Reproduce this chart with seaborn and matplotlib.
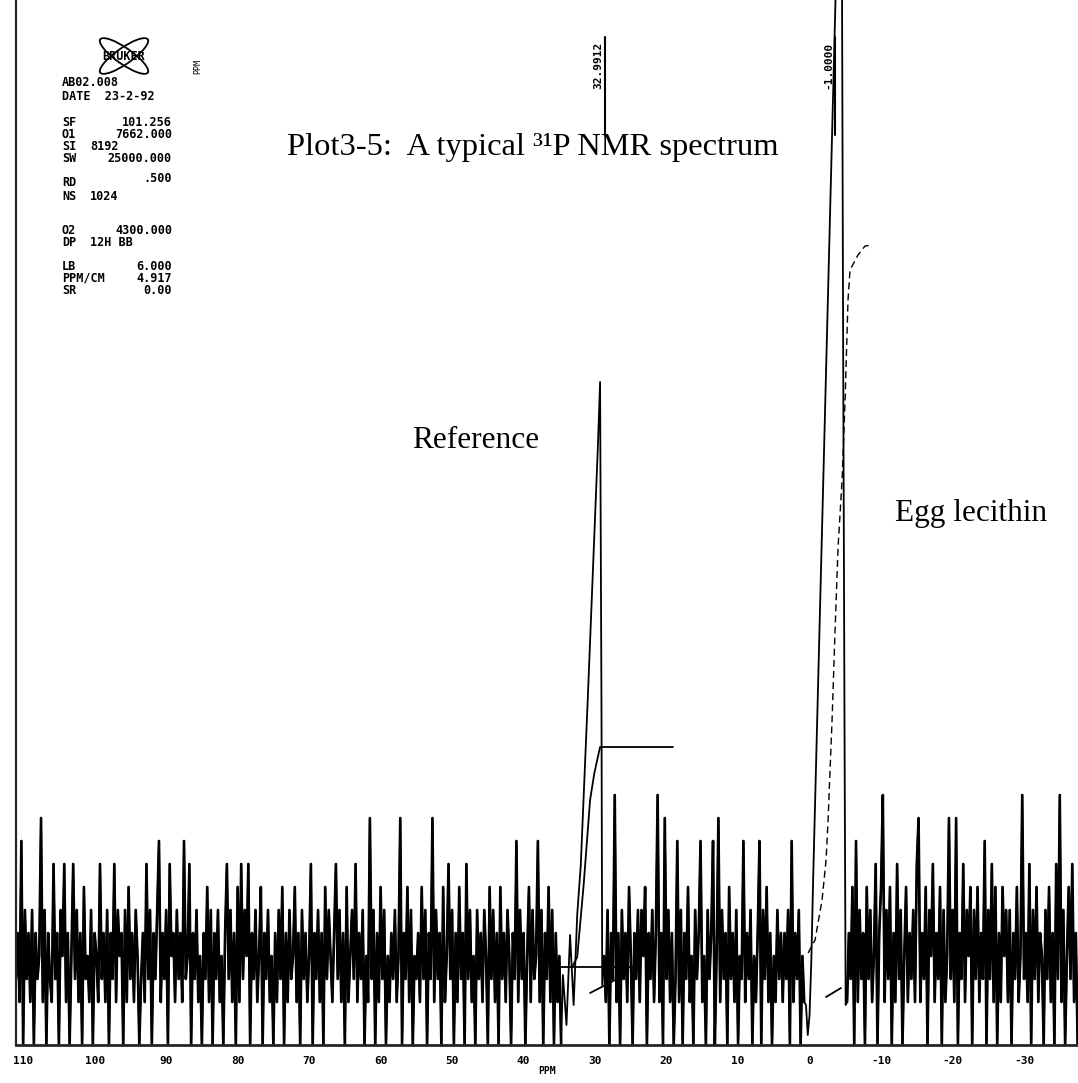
import numpy as np
import pandas as pd
import seaborn as sns
import matplotlib.pyplot as plt
from matplotlib.patches import Ellipse

sns.set_style('white')
plt.rcParams['font.family'] = ['DejaVu Sans']
plt.rcParams['text.color'] = 'black'
plt.rcParams['axes.labelcolor'] = 'black'
plt.rcParams['xtick.color'] = 'black'
plt.rcParams['ytick.color'] = 'black'

# baseline noise, one hex digit per 0.25 ppm
noise_left = ("2418052415" "0423915042" "1724053714" "0372514062" "3150431724"
              "1504271534" "0516241530" "2417250425" "8142507341" "5241823704"
              "2513042615" "0425130472" "5140617253" "7042513604" "2513041526"
              "0415236140" "5241370425" "1406253147" "2514061352" "7142503192"
              "5041625031" "4251390426" "1503241625" "0429152406" "1372504162"
              "4072513052" "4153062514" "0624153042" "8152403615" "2381504261"
              "504130")
noise_mid = ("315042a140" "5241630425" "1536042514" "a140925140" "2815042613"
             "0524813052" "4803915240" "6241503281" "4250314805" "2614031524"
             "1425081425" "031")
noise_right = ("1426081524" "0625137046" "a152604172" "5036142517" "9142605371"
               "4260513925" "1904271536" "0526142805" "2716041635" "15042613a2"
               "4170526143" "052614072a" "1503627140")

# reference peak and egg lecithin peak
ref_peak_ppm = [34.5, 34.0, 33.5, 33.0, 32.5, 32.0, 31.5, 31.0, 30.5, 30.0, 29.6, 29.3, 29.1, 29.0]
ref_peak_int = [70, 20, 110, 40, 130, 180, 265, 350, 440, 530, 600, 663, 330, 60]
egg_peak_ppm = [0.5, 0.25, 0.0, -0.25, -0.5, -1.0, -1.5, -2.0, -2.5, -3.0, -3.5, -4.0, -4.3, -4.5, -4.7, -4.9, -5.05]
egg_peak_int = [40, 10, 30, 85, 165, 305, 445, 585, 725, 865, 1005, 1160, 1400, 1150, 700, 300, 40]

# integral traces
ref_base_ppm = [35.6, 24.4]
ref_base_val = [78, 78]
ref_int_ppm = [33.2, 32.5, 31.6, 30.7, 30.1, 29.7, 29.3, 19.1]
ref_int_val = [78, 88, 160, 245, 272, 285, 298, 298]
ref_tail_ppm = [30.7, 27.2]
ref_tail_val = [52, 65]
egg_int_ppm = [0.2, -0.77, -1.75, -2.31, -2.59, -3.15, -3.57, -3.99, -4.55, -4.97, -5.38, -5.66, -6.78, -7.76, -8.74]
egg_int_val = [92, 105, 145, 185, 225, 325, 415, 498, 565, 645, 745, 775, 790, 799, 800]
egg_tail_ppm = [-2.3, -4.4]
egg_tail_val = [48, 57]

# peak picking labels
pick_ppm = [28.6, -3.57]
pick_text = ['32.9912', '-1.0000']

tick_ppm = [110, 100, 90, 80, 70, 60, 50, 40, 30, 20, 10, 0, -10, -20, -30]
tick_text = ['110', '100', '90', '80', '70', '60', '50', '40', '30', '20', '10', '0', '-10', '-20', '-30']

hdr_keys = ['SF', 'O1', 'SI', 'SW', 'RD', 'NS', 'O2', 'DP', 'LB', 'PPM/CM', 'SR']
hdr_vals = ['101.256', '7662.000', '8192', '25000.000', '.500', '1024', '4300.000', '12H BB', '6.000', '4.917', '0.00']


def levels(s):
    out = []
    for c in s:
        n = int(c, 16)
        out.append(0 if n == 0 else 20 + n * 23)
    return out


seg_left = (111.0 - 0.25 * np.arange(len(noise_left)), levels(noise_left))
seg_mid = (28.75 - 0.25 * np.arange(len(noise_mid)), levels(noise_mid))
seg_right = (-5.25 - 0.25 * np.arange(len(noise_right)), levels(noise_right))

ppm = np.concatenate([seg_left[0], ref_peak_ppm, seg_mid[0], egg_peak_ppm, seg_right[0]])
inten = seg_left[1] + ref_peak_int + seg_mid[1] + egg_peak_int + seg_right[1]
df = pd.DataFrame({'ppm': ppm, 'intensity': inten})

fig = plt.figure(figsize=(10.78, 10.83), dpi=100)
ax = fig.add_axes([16 / 1078, 38 / 1083, 1062 / 1078, 1045 / 1083])

# whole trace thin, noise parts drawn again heavier (dense pen trace)
sns.lineplot(data=df, x='ppm', y='intensity', sort=False, estimator=None,
             color='black', lw=1.3, ax=ax)
for xs, ys in [seg_left, seg_mid, seg_right]:
    sns.lineplot(x=xs, y=ys, sort=False, estimator=None, color='black', lw=1.9, ax=ax)
for xs, ys in [(ref_base_ppm, ref_base_val), (ref_int_ppm, ref_int_val),
               (ref_tail_ppm, ref_tail_val), (egg_tail_ppm, egg_tail_val)]:
    sns.lineplot(x=xs, y=ys, sort=False, estimator=None, color='black', lw=1.3, ax=ax)
sns.lineplot(x=egg_int_ppm, y=egg_int_val, sort=False, estimator=None, color='black', lw=1.0,
             ax=ax, linestyle=(0, (5, 3)))

for p, t in zip(pick_ppm, pick_text):
    ax.plot([p, p], [910, 1008], color='black', lw=1.5)
    ax.text(p + 0.3, 980, t, rotation=90, ha='right', va='center',
            family='DejaVu Sans Mono', fontweight='bold', fontsize=8)

ax.set_xlim(111.0, -37.55)
ax.set_ylim(0, 1045)
ax.spines['top'].set_visible(False)
ax.spines['right'].set_visible(False)
ax.spines['left'].set_linewidth(1.6)
ax.spines['bottom'].set_linewidth(2.0)
ax.set_xticks(tick_ppm)
ax.set_xticklabels(tick_text, family='DejaVu Sans Mono', fontweight='bold', fontsize=8)
ax.set_xticks([t - 5 for t in tick_ppm], minor=True)
ax.tick_params(axis='x', which='both', direction='out', length=5, width=1.2, pad=3)
ax.set_yticks(np.arange(45, 1045, 75))
ax.set_yticklabels([])
ax.tick_params(axis='y', direction='in', length=4, width=1.0)
ax.set_xlabel('PPM', family='DejaVu Sans Mono', fontweight='bold', fontsize=7, labelpad=0)
ax.set_ylabel('')

# overlay in pixel units for the plotter header and the annotations
ov = fig.add_axes([0, 0, 1, 1])
ov.set_xlim(0, 1078)
ov.set_ylim(1083, 0)
ov.axis('off')
ov.patch.set_alpha(0)

mono = dict(family='DejaVu Sans Mono', fontsize=8.5, fontweight='bold', va='center')
ov.add_patch(Ellipse((124, 56), 58, 16, angle=35, fill=False, lw=1.3, color='black'))
ov.add_patch(Ellipse((124, 56), 58, 16, angle=-35, fill=False, lw=1.3, color='black'))
ov.text(124, 56, 'BRUKER', ha='center', **mono)
ov.text(198, 66, 'PPM', rotation=90, ha='center', family='DejaVu Sans Mono', fontsize=6, va='center')
ov.text(62, 82, 'AB02.008', ha='left', **mono)
ov.text(62, 96, 'DATE  23-2-92', ha='left', **mono)
hdr_y = [123, 135, 147, 159, 183, 196, 230, 242, 266, 278, 290]
for k, v, y in zip(hdr_keys, hdr_vals, hdr_y):
    ov.text(62, y, k, ha='left', **mono)
    if v in ('8192', '1024', '12H BB'):
        ov.text(90, y, v, ha='left', **mono)
    elif v == '.500':
        ov.text(172, y - 4, v, ha='right', **mono)
    else:
        ov.text(172, y, v, ha='right', **mono)

serif = dict(family='Liberation Serif', fontsize=22.5, va='center')
ov.text(533, 148, 'Plot3-5:  A typical \u00b3\u00b9P NMR spectrum', ha='center',
        family='Liberation Serif', fontsize=23.4, va='center')
ov.text(476, 440, 'Reference', ha='center', **serif)
ov.text(971, 513, 'Egg lecithin', ha='center', **serif)

fig.savefig('out.png', dpi=100, facecolor='white')
